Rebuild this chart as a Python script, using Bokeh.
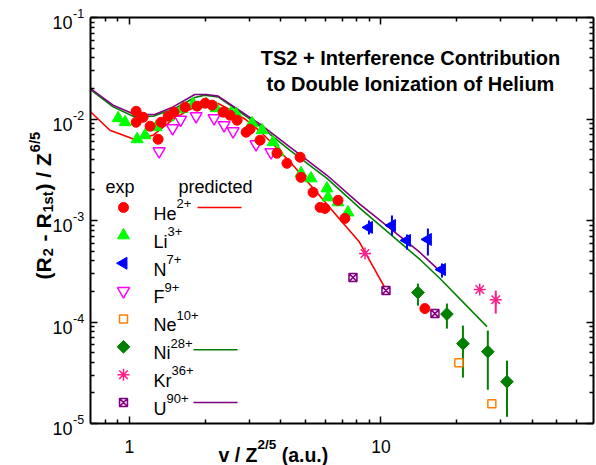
import math
from bokeh.plotting import figure
from bokeh.models import LogAxis, FixedTicker, Label
from bokeh.embed import file_html
from bokeh.resources import INLINE

# ---------------- data ----------------
He_x = [1.063, 1.063, 1.133, 1.208, 1.30, 1.336, 1.425, 1.505, 1.665, 1.858, 2.0, 2.13, 2.357, 2.513,
        2.68, 2.91, 3.017, 3.306, 3.86, 4.23, 4.77, 4.81, 5.37, 5.73, 5.99, 6.75, 7.19, 14.95]
He_y = [0.0119, 0.00929, 0.0104, 0.00849, 0.00632, 0.00929, 0.01066, 0.01167, 0.01308, 0.01338, 0.01432,
        0.01368, 0.01167, 0.0109, 0.00973, 0.00741, 0.00793, 0.00618, 0.0046, 0.00366, 0.0042, 0.00266,
        0.001894, 0.001347, 0.001316, 0.00158, 0.001049, 0.0001356]

Li_x = [0.902, 0.961, 1.073, 1.154, 1.277, 1.425, 1.62, 1.791, 2.017, 2.21, 2.535, 2.655, 3.073, 3.367,
        3.724, 3.90, 4.81, 5.27, 6.1, 6.16, 6.75, 7.39]
Li_y = [0.01018, 0.00929, 0.00632, 0.00692, 0.0083, 0.0104, 0.01249, 0.0140, 0.0140, 0.01278, 0.0114,
        0.01115, 0.00909, 0.00775, 0.0059, 0.0047, 0.00292, 0.0026, 0.00207, 0.00169, 0.00151, 0.0012]

N_x = [8.96, 11.06, 12.69, 15.37, 17.48]
N_y = [8.55e-4, 8.94e-4, 6.36e-4, 6.51e-4, 3.29e-4]
N_lo = [7.29e-4, 7.13e-4, 5.18e-4, 4.52e-4, 2.74e-4]
N_hi = [1.0e-3, 1.123e-3, 7.29e-4, 8.36e-4, 3.77e-4]

F_x = [1.312, 1.484, 1.597, 1.841, 2.17, 2.378, 2.582, 3.187, 3.656]
F_y = [0.00481, 0.00811, 0.00984, 0.01066, 0.01018, 0.00869, 0.00758, 0.00564, 0.0047]

Ne_x = [20.4, 27.6]
Ne_y = [3.97e-5, 1.565e-5]

Ni_x = [14.03, 18.29, 21.18, 26.6, 31.7]
Ni_y = [1.95e-4, 1.197e-4, 6.12e-5, 5.1e-5, 2.58e-5]
Ni_lo = [1.45e-4, 8.61e-5, 2.83e-5, 2.15e-5, 1.164e-5]
Ni_hi = [2.39e-4, 1.52e-4, 9.21e-5, 8.23e-5, 4.16e-5]

Kr_x = [8.64, 24.7, 28.6]
Kr_y = [4.73e-4, 2.09e-4, 1.66e-4]
Kr_err_x = [28.6]
Kr_lo = [1.21e-4]
Kr_hi = [2.04e-4]

U_x = [7.74, 10.47, 16.39]
U_y = [2.74e-4, 2.04e-4, 1.21e-4]

He_pred_x = [0.7, 0.836, 1.05, 1.242, 1.491, 1.711, 1.994, 2.251, 2.582, 2.883, 3.306, 3.793, 4.35,
             4.77, 5.73, 6.87, 8.18, 10.56]
He_pred_y = [0.0118, 0.00775, 0.00628, 0.00692, 0.00989, 0.01222, 0.01442, 0.01422, 0.01194, 0.00995,
             0.00758, 0.00539, 0.00377, 0.00292, 0.00173, 0.001025, 6.22e-4, 2.0e-4]

Ni_pred_x = [0.7, 0.861, 1.034, 1.242, 1.515, 1.819, 1.994, 2.251, 3.306, 4.35, 6.1, 8.26, 14.29,
             17.16, 26.4]
Ni_pred_y = [0.01945, 0.01316, 0.01066, 0.01066, 0.0127, 0.0163, 0.01718, 0.01653, 0.00849, 0.00492,
             0.0026, 0.001316, 4.13e-4, 2.68e-4, 9.0e-5]

U_pred_x = [0.7, 0.861, 1.05, 1.261, 1.491, 1.819, 2.017, 2.251, 3.306, 4.35, 6.1, 8.26, 14.29, 16.7]
U_pred_y = [0.0199, 0.01368, 0.01108, 0.01108, 0.01316, 0.01746, 0.01746, 0.0168, 0.00889, 0.00527,
            0.00279, 0.001442, 4.84e-4, 3.37e-4]

x_major = [1, 10]
x_major_labels = ["1", "10"]
x_minor = [0.8, 0.9, 2, 3, 4, 5, 6, 7, 8, 9, 20, 30, 40, 50, 60]
y_major = [1e-5, 1e-4, 1e-3, 1e-2, 1e-1]
y_major_exps = ["-5", "-4", "-3", "-2", "-1"]
y_minor = [m * 10.0 ** e for e in range(-5, -1) for m in range(2, 10)]

legend_names = ["He", "Li", "N", "F", "Ne", "Ni", "Kr", "U"]
legend_charges = ["2+", "3+", "7+", "9+", "10+", "28+", "36+", "90+"]

title_lines = ["TS2 + Interference Contribution", "to Double Ionization of Helium"]

# ---------------- layout ----------------
FONT = "Liberation Sans"
NB = "\u00a0"
W, H = 596, 465
# data box (axes) in canvas pixels
FL, FT, FW, FH = 90, 17, 503, 406
X0, X1 = 0.7, 70.0          # axis limits
Y0, Y1 = 1e-5, 1e-1
LX0, LX1 = math.log10(X0), math.log10(X1)
LY0, LY1 = math.log10(Y0), math.log10(Y1)
kx = (LX1 - LX0) / FW
ky = (LY1 - LY0) / FH


def X(px):
    return 10 ** (LX0 + (px - FL) * kx)


def Y(py):
    return 10 ** (LY1 - (py - FT) * ky)


REG = {' ': 278, NB: 278, '(': 333, ')': 333, '+': 584, '-': 333, '.': 278, '/': 278, 'F': 611, 'H': 722,
       'K': 667, 'L': 556, 'N': 722, 'R': 722, 'U': 722, 'Z': 611, 'a': 556, 'c': 500, 'd': 556,
       'e': 556, 'i': 222, 'p': 556, 'r': 333, 's': 500, 't': 278, 'u': 556, 'v': 500, 'x': 500}
BOLD = {' ': 278, NB: 278, '(': 333, ')': 333, '+': 584, '-': 333, '.': 278, '/': 278, 'R': 722, 'Z': 611,
        'a': 556, 's': 556, 't': 333, 'u': 611, 'v': 556}


def tw(s, size, bold):
    tbl = BOLD if bold else REG
    return sum(tbl.get(c, 556) for c in s) * size / 1000.0


# the plotting frame covers the whole canvas; the axes are pinned to the data box
p = figure(width=W, height=H, x_axis_type="log", y_axis_type="log",
           x_range=(X(0), X(W)), y_range=(Y(H), Y(0)),
           output_backend="svg", toolbar_location=None, min_border=0,
           background_fill_color="white", border_fill_color="white")
p.xgrid.visible = False
p.ygrid.visible = False
p.outline_line_color = None

p.add_layout(LogAxis(), "above")
p.add_layout(LogAxis(), "right")
p.below[0].fixed_location = Y0
p.above[0].fixed_location = Y1
p.left[0].fixed_location = X0
p.right[0].fixed_location = X1
for ax in list(p.below) + list(p.above):
    ax.ticker = FixedTicker(ticks=x_major, minor_ticks=x_minor)
    ax.major_label_overrides = {v: " " for v in x_major}
    ax.bounds = (X0, X1)
for ax in list(p.left) + list(p.right):
    ax.ticker = FixedTicker(ticks=y_major, minor_ticks=y_minor)
    ax.major_label_overrides = {v: " " for v in y_major}
    ax.bounds = (Y0, Y1)
for ax in list(p.below) + list(p.above) + list(p.left) + list(p.right):
    ax.axis_line_width = 2
    ax.axis_line_color = "black"
    ax.major_tick_in = 7
    ax.major_tick_out = 0
    ax.minor_tick_in = 4
    ax.minor_tick_out = 0
    ax.major_tick_line_width = 1.5
    ax.minor_tick_line_width = 1.5
    ax.major_label_text_font_size = "1px"
    ax.major_label_text_alpha = 0
    ax.major_label_standoff = 0

# ---------------- predicted curves ----------------
p.line(He_pred_x, He_pred_y, line_color="#FF0000", line_width=1.6)
p.line(Ni_pred_x, Ni_pred_y, line_color="#008000", line_width=1.6)
p.line(U_pred_x, U_pred_y, line_color="#800080", line_width=1.6)

# ---------------- error bars ----------------
p.segment(x0=N_x, y0=N_lo, x1=N_x, y1=N_hi, line_color="#0000FF", line_width=2)
p.segment(x0=Ni_x, y0=Ni_lo, x1=Ni_x, y1=Ni_hi, line_color="#008000", line_width=2)
p.segment(x0=Kr_err_x, y0=Kr_lo, x1=Kr_err_x, y1=Kr_hi, line_color="#FF1E8C", line_width=2)

# ---------------- markers ----------------
STY = {
    "He": dict(marker="circle", size=10, fill_color="#FF0000", line_color="#FF0000"),
    "Li": dict(marker="triangle", size=12, fill_color="#00FF00", line_color="#00FF00"),
    "N": dict(marker="triangle", size=12, angle=math.pi / 2, fill_color="#0000FF", line_color="#0000FF"),
    "F": dict(marker="inverted_triangle", size=12, fill_color="white", line_color="#FF00FF", line_width=1.5),
    "Ne": dict(marker="square", size=8, fill_color="white", line_color="#FF8000", line_width=1.5),
    "Ni": dict(marker="square", size=9, angle=math.pi / 4, fill_color="#007F00", line_color="#007F00"),
    "Kr": dict(marker="asterisk", size=12, line_color="#FF1E8C", line_width=1.5),
    "U": dict(marker="square_x", size=8, fill_color="#F0E0F0", line_color="#800080", line_width=1.5),
}
series = {"He": (He_x, He_y), "Li": (Li_x, Li_y), "N": (N_x, N_y), "F": (F_x, F_y),
          "Ne": (Ne_x, Ne_y), "Ni": (Ni_x, Ni_y), "Kr": (Kr_x, Kr_y), "U": (U_x, U_y)}
for name in ["F", "Li", "He", "N", "Ne", "Ni", "Kr", "U"]:
    xs, ys = series[name]
    p.scatter(xs, ys, **STY[name])


# ---------------- text helpers ----------------
def put(text, x, y, size, bold=False, align="left", baseline="alphabetic", angle=0.0,
        x_offset=0, y_offset=0):
    p.add_layout(Label(x=x, y=y, x_offset=x_offset, y_offset=y_offset, text=text,
                       text_font=FONT, text_font_size=f"{size}px",
                       text_font_style="bold" if bold else "normal",
                       text_align=align, text_baseline=baseline, angle=angle,
                       text_color="black"))


def run_h(pieces, px, py):
    for t, size, bold, rise, gap in pieces:
        put(t, X(px), Y(py - rise), size, bold)
        px += tw(t, size, bold) + gap


def run_v(pieces, bx, py):
    for t, size, bold, rise, gap in pieces:
        put(t, X(bx - rise), Y(py), size, bold, angle=math.pi / 2)
        py -= tw(t, size, bold) + gap


# tick labels
for v, e in zip(y_major, y_major_exps):
    put("10", X(72), v, 18, align="right", y_offset=-5)
    put(e, X(72.5), v, 12.5, align="left", y_offset=4)
for v, t in zip(x_major, x_major_labels):
    put(t, v, Y(446), 17.5, align="center")

# x-axis title
run_h([("v / Z", 19.5, True, 0, 0), ("2/5", 13.5, True, 10, 0), (NB + "(a.u.)", 19.5, True, 0, 0)], 218, 454)

# y-axis title (rotated, from the bottom upwards)
run_v([("(R", 21, True, 0, 1), ("2", 14.5, True, -4.5, 1), (NB + "-" + NB + "R", 21, True, 0, 1),
       ("1st", 14.5, True, -4.5, 1), (")" + NB + "/" + NB + "Z", 21, True, 0, 1),
       ("6/5", 14.5, True, 8.5, 0)], 43, 279)

# chart title
put(title_lines[0], X(410), Y(57.3), 20, bold=True, align="center")
put(title_lines[1], X(410), Y(83.3), 20, bold=True, align="center")

# ---------------- legend ----------------
put("exp", X(105), Y(186.7), 18)
put("predicted", X(178), Y(186.7), 18)
row0, dy = 207.0, 27.86
for i, (name, ch) in enumerate(zip(legend_names, legend_charges)):
    ry = row0 + i * dy
    p.scatter([X(123)], [Y(ry)], **STY[name])
    run_h([(name, 18, False, 0, 0), (ch, 13, False, 10.2, 0)], 153, ry + 6.4)
p.line([X(197), X(241)], [Y(row0), Y(row0)], line_color="#FF0000", line_width=1.6)
ry_ni = row0 + 5 * dy + 3
p.line([X(193), X(237)], [Y(ry_ni), Y(ry_ni)], line_color="#008000", line_width=1.6)
ry_u = row0 + 7 * dy
p.line([X(193), X(237)], [Y(ry_u), Y(ry_u)], line_color="#800080", line_width=1.6)

open("out.html", "w").write(file_html(p, INLINE))
